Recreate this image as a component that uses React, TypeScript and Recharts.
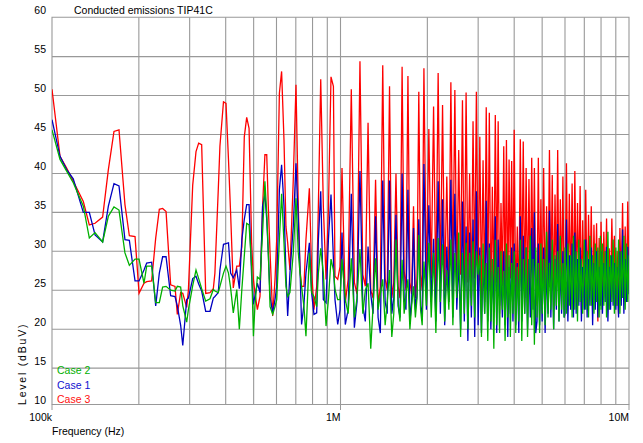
import { CartesianGrid, Line, LineChart, ReferenceArea, XAxis, YAxis } from "recharts";

// measured spectrum, frequency in kHz
const FREQ_KHZ = [
  // 100k - 360k
  100, 106.6, 112.4, 118.5, 128.4, 134.7, 141, 149.8, 156.8, 164,
  170.7, 179, 185.4, 194, 200.3, 208.4, 212.9, 221.5, 228.8, 235.5,
  241.8, 248.5, 257.8, 266.9, 271.9, 279.2, 284, 293, 297, 307.4,
  315.6, 322.4, 330.2, 341, 352.9, 362.4,
  // 360k - 1M
  367, 377, 382, 393, 401, 409, 416, 425, 437, 446,
  455, 464, 473, 482, 492, 499, 505, 515, 526, 537,
  547, 555, 562, 570, 582, 593, 601, 614, 625, 637,
  647, 656, 668, 686, 701, 714, 724, 733, 747, 759,
  780, 794, 809, 827, 838, 854, 872, 891, 908, 927,
  945, 957, 978, 996,
  // 1M - 3M
  1012, 1039, 1063, 1090, 1117, 1141, 1168, 1195, 1219, 1246,
  1273, 1297, 1323, 1350, 1374, 1401, 1428, 1452, 1479, 1506,
  1530, 1557, 1584, 1608, 1635, 1662, 1686, 1713, 1740, 1764,
  1791, 1818, 1842, 1868, 1895, 1919, 1946, 1985, 2024, 2063,
  2102, 2141, 2180, 2219, 2258, 2297, 2336, 2375, 2413, 2452,
  2491, 2530, 2569, 2608, 2647, 2686, 2725, 2764, 2803, 2842,
  2880, 2919, 2958,
  // 3M - 10M
  3000, 3040, 3080, 3120, 3160, 3200, 3240, 3280, 3320, 3360,
  3400, 3440, 3480, 3520, 3560, 3600, 3640, 3680, 3720, 3760,
  3800, 3840, 3880, 3920, 3960,
  4000, 4050, 4100, 4150, 4200, 4250, 4300, 4350, 4400, 4450,
  4500, 4550, 4600, 4650, 4700, 4750, 4800, 4850, 4900, 4950,
  5000, 5060, 5120, 5180, 5240, 5300, 5360, 5420, 5480, 5540,
  5600, 5660, 5720, 5780, 5840, 5900, 5960,
  6000, 6070, 6140, 6210, 6280, 6350, 6420, 6490, 6560, 6630, 6700, 6770, 6840, 6910,
  7000, 7080, 7160, 7240, 7320, 7400, 7480, 7560, 7640, 7720, 7800, 7880, 7960,
  8000, 8090, 8180, 8270, 8360, 8450, 8540, 8630, 8720, 8810, 8900,
  9000, 9100, 9200, 9300, 9400, 9500, 9600, 9700, 9800, 9900, 10000,
];

// Case 1 (blue)
const CASE1_DBUV = [
  46.9, 42.2, 40.5, 39.3, 35.0, 35.0, 32.1, 31.2, 35.8, 38.7,
  38.4, 31.5, 31.4, 26.2, 26.2, 27.6, 28.5, 28.6, 23.0, 27.2,
  29.3, 29.3, 24.3, 24.2, 23.0, 20.5, 17.9, 23.8, 24.0, 26.5,
  26.8, 25.8, 24.9, 22.3, 22.3, 24.0,

  24.2, 24.7, 27.6, 30.9, 31.0, 31.1, 27.2, 26.6, 27.6, 25.2,
  31.5, 34.1, 36.0, 36.0, 26.8, 23.2, 24.2, 25.9, 24.7, 35.8,
  37.3, 34.1, 29.8, 24.2, 22.1, 23.8, 25.5, 37.9, 41.1, 35.8,
  27.2, 21.7, 27.2, 33.2, 41.3, 34.1, 27.6, 20.6, 23.2, 27.2,
  31.1, 24.7, 21.9, 22.1, 31.5, 37.7, 23.8, 23.4, 31.5, 37.3,
  29.0, 23.8, 20.6, 22.5,

  32.4, 20.6, 22.5, 37.4, 20.2, 23.5, 40.3, 23.0, 21.0, 30.6,
  24.5, 22.0, 34.5, 21.5, 19.5, 39.1, 23.5, 22.0, 39.1, 22.0,
  24.0, 34.7, 23.0, 21.5, 40.0, 24.0, 22.5, 37.9, 21.0, 23.5,
  33.0, 22.5, 24.5, 34.1, 23.0, 21.5, 41.2, 22.5, 35.9, 23.5,
  31.6, 21.0, 39.0, 22.0, 36.7, 20.5, 30.6, 23.5, 39.2, 21.5,
  37.4, 22.5, 28.9, 20.0, 36.4, 21.0, 33.2, 18.5, 32.4, 21.5,
  34.1, 19.0, 37.7,

  20.5, 30.5, 19.5, 29.0, 22.0, 36.5, 21.0, 31.0, 20.0, 27.5,
  22.5, 34.5, 19.5, 31.5, 23.0, 27.0, 21.5, 30.0, 20.5, 29.5,
  19.0, 28.0, 22.0, 30.5, 21.0,
  31.0, 20.5, 28.5, 19.5, 34.5, 21.0, 32.0, 22.0, 30.5, 20.0,
  29.0, 21.5, 33.0, 22.5, 35.0, 19.5, 21.0, 31.0, 20.5, 28.0,
  21.0, 30.5, 19.5, 28.0, 22.0, 35.2, 21.5, 30.0, 20.0, 29.0,
  22.5, 33.5, 21.0, 28.5, 22.0, 30.0, 21.5,
  22.0, 34.1, 21.0, 29.5, 22.5, 31.0, 21.5, 32.4, 22.0, 29.0, 23.0, 30.5, 21.0, 28.0,
  22.5, 31.5, 21.5, 29.0, 23.0, 30.5, 20.5, 28.5, 22.5, 30.0, 21.5, 28.0, 23.0,
  30.0, 22.0, 28.5, 23.5, 30.6, 21.0, 28.0, 22.5, 29.5, 23.0, 28.5,
  22.5, 28.0, 21.5, 30.0, 23.0, 32.8, 22.0, 29.0, 23.5, 30.6, 24.5,
];

// Case 2 (green)
const CASE2_DBUV = [
  45.6, 41.8, 40.3, 38.8, 35.8, 31.7, 32.4, 31.2, 34.5, 35.7,
  35.3, 29.8, 28.2, 29.0, 29.0, 25.9, 28.1, 28.1, 23.4, 23.4,
  25.4, 25.5, 25.0, 24.9, 25.5, 25.4, 23.0, 20.9, 22.5, 25.6,
  27.6, 26.5, 25.2, 23.6, 23.9, 25.1,

  24.9, 24.7, 25.5, 27.2, 28.1, 27.2, 25.3, 22.1, 25.1, 20.0,
  25.1, 29.4, 33.6, 33.4, 28.1, 19.1, 22.9, 26.7, 26.4, 32.4,
  39.0, 34.9, 29.8, 22.9, 21.9, 22.9, 23.8, 31.5, 37.4, 31.1,
  25.5, 24.2, 24.7, 29.8, 36.8, 29.8, 27.2, 25.5, 22.9, 19.1,
  29.8, 24.7, 24.2, 22.9, 27.2, 30.4, 27.2, 20.4, 23.8, 29.0,
  27.6, 25.1, 23.8, 23.8,

  29.0, 23.8, 22.0, 29.1, 21.5, 24.0, 30.3, 22.0, 25.0, 25.9,
  17.5, 23.0, 29.1, 22.5, 24.5, 26.4, 20.5, 23.5, 27.6, 19.0,
  22.0, 31.5, 23.5, 21.0, 28.9, 22.0, 24.5, 26.4, 20.0, 23.0,
  25.5, 21.5, 24.0, 32.1, 22.5, 20.5, 28.7, 23.0, 31.1, 21.5,
  29.8, 19.5, 31.7, 23.5, 30.9, 21.0, 27.6, 22.5, 31.5, 20.5,
  29.8, 24.0, 32.4, 19.0, 29.8, 22.0, 31.1, 20.0, 29.8, 23.0,
  31.3, 21.5, 30.0,

  27.0, 29.5, 19.0, 31.0, 22.0, 28.5, 18.5, 30.5, 21.0, 29.0,
  17.5, 31.5, 20.5, 28.0, 19.5, 30.0, 22.5, 27.5, 18.5, 31.0,
  21.5, 29.5, 19.0, 28.5, 22.0,
  30.0, 19.5, 28.0, 21.0, 31.5, 18.5, 29.0, 22.0, 30.5, 19.0,
  27.5, 32.0, 20.5, 29.0, 18.0, 30.5, 21.5, 28.5, 19.5, 31.0,
  22.0, 29.0, 20.5, 32.5, 21.5, 28.5, 22.5, 31.5, 20.0, 29.5,
  23.0, 30.0, 21.0, 32.0, 22.5, 28.5, 21.5,
  30.5, 22.0, 31.0, 23.0, 29.5, 21.5, 32.0, 22.5, 30.0, 21.0, 31.5, 23.5, 29.0, 22.0,
  31.5, 22.5, 30.0, 21.5, 32.0, 23.0, 29.5, 22.0, 31.0, 23.5, 30.5, 21.5, 32.0,
  22.5, 31.0, 23.0, 30.0, 21.5, 32.5, 22.5, 29.5, 23.5, 31.5, 22.0,
  30.5, 23.0, 31.5, 22.0, 30.0, 24.0, 32.0, 22.5, 31.0, 23.5, 29.5,
];

// Case 3 (red)
const CASE3_DBUV = [
  50.8, 42.2, 40.7, 39.0, 36.4, 33.4, 33.6, 34.4, 40.5, 45.4,
  45.6, 36.0, 32.0, 31.9, 24.6, 25.9, 26.1, 26.2, 31.7, 35.4,
  35.5, 35.1, 25.7, 25.5, 21.9, 24.7, 24.6, 22.8, 25.0, 38.5,
  42.8, 43.9, 43.7, 24.6, 24.7, 25.2,

  27.2, 37.9, 43.5, 49.2, 49.0, 41.8, 34.9, 25.3, 28.1, 28.1,
  30.6, 44.7, 47.2, 45.8, 31.1, 26.4, 24.7, 22.5, 24.2, 35.8,
  42.4, 42.4, 35.8, 29.8, 21.7, 26.4, 31.5, 50.3, 53.1, 44.3,
  33.2, 31.1, 27.6, 39.2, 51.4, 35.8, 27.6, 25.5, 25.5, 31.5,
  38.1, 27.6, 22.5, 25.5, 35.8, 52.1, 35.8, 26.4, 35.3, 52.4,
  51.2, 26.8, 26.4, 28.0,

  40.7, 23.4, 26.4, 50.8, 26.0, 24.5, 54.4, 27.0, 25.5, 46.5,
  25.0, 24.0, 39.2, 23.0, 25.5, 53.9, 26.5, 25.0, 51.2, 24.0,
  26.0, 40.0, 25.5, 24.0, 53.7, 27.5, 25.0, 52.5, 26.0, 24.5,
  35.8, 24.0, 26.5, 50.5, 27.0, 25.0, 53.5, 25.5, 45.7, 26.5,
  48.6, 24.5, 52.9, 26.0, 48.8, 25.0, 39.6, 23.5, 51.7, 26.5,
  50.7, 25.0, 43.0, 27.0, 49.4, 24.5, 50.4, 26.0, 40.0, 24.0,
  46.7, 26.5, 50.5,

  25.5, 44.7, 24.0, 41.7, 23.5, 48.5, 25.0, 47.8, 22.5, 38.3,
  24.0, 47.5, 26.0, 46.7, 22.0, 36.2, 25.5, 43.5, 24.0, 44.3,
  23.5, 41.8, 26.5, 41.6, 24.0,
  45.6, 22.5, 33.2, 23.0, 44.4, 25.0, 44.1, 24.0, 40.7, 23.5,
  39.3, 24.5, 42.0, 25.5, 40.7, 23.0, 24.0, 42.0, 24.0, 36.7,
  23.5, 40.7, 24.0, 35.8, 25.0, 43.0, 24.5, 39.8, 22.5, 37.3,
  25.5, 43.0, 23.0, 36.7, 25.0, 39.6, 24.0,
  24.5, 41.3, 23.5, 37.4, 25.0, 38.7, 23.0, 40.3, 24.5, 36.2, 25.5, 38.4, 22.5, 34.0,
  24.0, 37.9, 23.0, 34.7, 25.0, 35.8, 22.5, 33.4, 24.5, 33.6, 21.0, 31.7, 25.0,
  33.8, 23.5, 32.5, 25.0, 34.2, 22.5, 30.4, 24.0, 34.2, 26.0, 32.0,
  23.0, 30.0, 22.0, 33.0, 25.0, 36.2, 23.5, 33.2, 24.0, 36.4, 27.0,
];

const X_TICKS = [100, 200, 300, 400, 500, 600, 700, 800, 900, 1000, 2000, 3000, 4000, 5000, 6000, 7000, 8000, 9000, 10000];
const X_GRID = [200, 300, 400, 500, 600, 700, 800, 900, 1000, 2000, 3000, 4000, 5000, 6000, 7000, 8000, 9000];
const X_LABELS: Record<number, string> = { 100: "100k", 1000: "1M", 10000: "10M" };
const Y_TICKS = [10, 15, 20, 25, 30, 35, 40, 45, 50, 55, 60];
const Y_GRID = [15, 20, 25, 30, 35, 40, 45, 50, 55];
const Y_MIN = 10.33;
const Y_MAX = 60.05;

const FONT = '"Liberation Sans", Arial, sans-serif';
const GRID = "#999999";

const rows = FREQ_KHZ.map((f, i) => ({
  f,
  case1: CASE1_DBUV[i],
  case2: CASE2_DBUV[i],
  case3: CASE3_DBUV[i],
}));

function XTick(props: any) {
  const { x, y, payload } = props;
  const label = X_LABELS[payload.value];
  if (!label) return <g />;
  return (
    <g>
      <line x1={x} x2={x} y1={y} y2={y + 5.5} stroke={GRID} />
      <text x={x} y={y + 16.3} textAnchor="end" fontFamily={FONT} fontSize={10.5} fill="#000">
        {label}
      </text>
    </g>
  );
}

function YTick(props: any) {
  const { x, y, payload } = props;
  return (
    <text x={x - 6} y={y - 3.3} textAnchor="end" fontFamily={FONT} fontSize={10.5} fill="#000">
      {payload.value}
    </text>
  );
}

export default function App() {
  return (
    <div style={{ position: "absolute", left: 0, top: 0, width: 643, height: 443, background: "#fff" }}>
      <LineChart width={643} height={443} data={rows} margin={{ top: 17.3, right: 14, bottom: 0, left: 0 }}>
        <CartesianGrid stroke={GRID} strokeWidth={1.1} horizontalValues={Y_GRID} verticalValues={X_GRID} />
        <ReferenceArea x1={100} x2={10000} y1={Y_MIN} y2={Y_MAX} fill="none" stroke={GRID} strokeWidth={1.1} ifOverflow="visible" />
        <XAxis
          dataKey="f"
          type="number"
          scale="log"
          domain={[100, 10000]}
          allowDataOverflow
          ticks={X_TICKS}
          interval={0}
          height={38.5}
          tickSize={0}
          tickMargin={0}
          tickLine={false}
          axisLine={false}
          tick={<XTick />}
        />
        <YAxis
          type="number"
          domain={[Y_MIN, Y_MAX]}
          allowDataOverflow
          ticks={Y_TICKS}
          interval={0}
          width={52}
          tickSize={0}
          tickMargin={0}
          tickLine={false}
          axisLine={false}
          tick={<YTick />}
        />
        <Line dataKey="case3" type="linear" stroke="#ff0000" strokeWidth={1.3} dot={false} isAnimationActive={false} />
        <Line dataKey="case1" type="linear" stroke="#0000c0" strokeWidth={1.3} dot={false} isAnimationActive={false} />
        <Line dataKey="case2" type="linear" stroke="#00b000" strokeWidth={1.3} dot={false} isAnimationActive={false} />
      </LineChart>
      <svg width={643} height={443} style={{ position: "absolute", left: 0, top: 0, pointerEvents: "none" }}>
        <text x={74} y={14.3} fontFamily={FONT} fontSize={10.5} fill="#000">
          Conducted emissions TIP41C
        </text>
        <text x={52} y={435} fontFamily={FONT} fontSize={10.5} fill="#000">
          Frequency (Hz)
        </text>
        <text transform="translate(26,405) rotate(-90)" fontFamily={FONT} fontSize={10.5} letterSpacing={1.8} fill="#000">
          Level (dBuV)
        </text>
        <text x={57} y={374} fontFamily={FONT} fontSize={10.5} fill="#00b000">Case 2</text>
        <text x={57} y={388.5} fontFamily={FONT} fontSize={10.5} fill="#1010d0">Case 1</text>
        <text x={57} y={403} fontFamily={FONT} fontSize={10.5} fill="#ff1010">Case 3</text>
      </svg>
    </div>
  );
}
